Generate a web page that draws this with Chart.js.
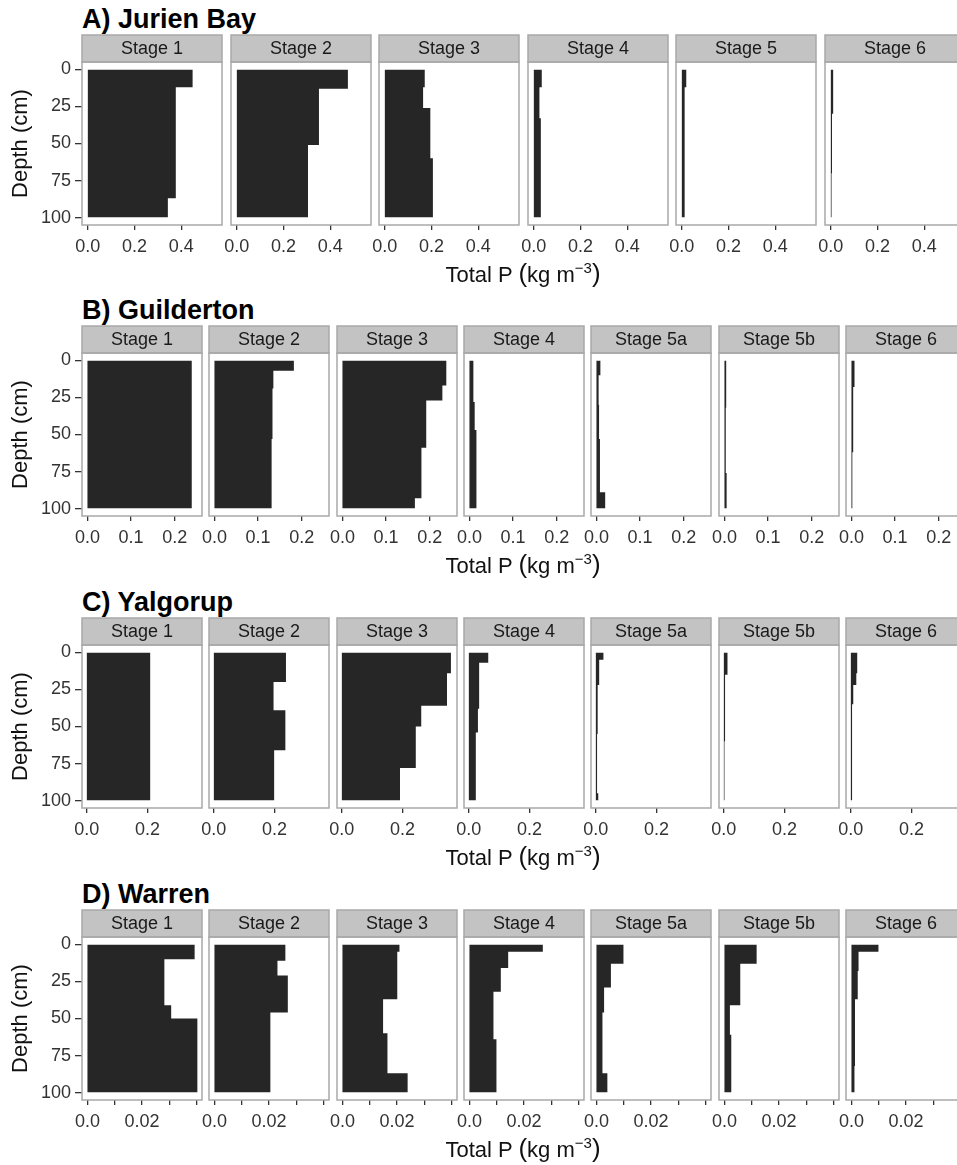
<!DOCTYPE html>
<html>
<head>
<meta charset="utf-8">
<script src="https://cdn.jsdelivr.net/npm/chart.js@4.4.1/dist/chart.umd.min.js"></script>
<style>
  body { margin: 0; background: #fff; width: 957px; height: 1165px; overflow: hidden; position: relative;
         font-family: "Liberation Sans", Arial, sans-serif; }
  canvas { position: absolute; }
  .site { position: absolute; left: 82px; font-weight: bold; font-size: 27px; line-height: 27px; color: #000; white-space: nowrap; }
  .xtitle { position: absolute; left: 0; width: 1046px; text-align: center; font-size: 22px; line-height: 26px; color: #111; white-space: nowrap; }
  .xtitle .par { font-size: 26px; }
  .xtitle sup { font-size: 15px; vertical-align: 9px; line-height: 0; }
</style>
</head>
<body>
<script>
// --- Data: depth layer breaks (cm) and total P (kg m-3), one profile per stage ---
const depthTicks = [0, 25, 50, 75, 100];

const jurienStages = ["Stage 1", "Stage 2", "Stage 3", "Stage 4", "Stage 5", "Stage 6"];
const jurienBreaks = [[0, 12, 87, 100], [0, 13, 51, 100], [0, 12, 26, 60, 100], [0, 12, 33, 100], [0, 12, 100], [0, 30, 70, 100]];
const jurienValues = [[0.449, 0.377, 0.343], [0.476, 0.352, 0.305], [0.171, 0.164, 0.195, 0.206], [0.034, 0.024, 0.030], [0.019, 0.012], [0.010, 0.005, 0.003]];
const jurienTicks = [0, 0.2, 0.4];
const jurienTickLabels = ["0.0", "0.2", "0.4"];

const guildertonStages = ["Stage 1", "Stage 2", "Stage 3", "Stage 4", "Stage 5a", "Stage 5b", "Stage 6"];
const guildertonBreaks = [[0, 100], [0, 7, 19, 53, 100], [0, 17, 27, 59, 93, 100], [0, 28, 47, 100], [0, 10, 30, 53, 89, 100], [0, 32, 76, 100], [0, 18, 62, 100]];
const guildertonValues = [[0.239], [0.182, 0.135, 0.133, 0.131], [0.238, 0.229, 0.192, 0.181, 0.166], [0.009, 0.012, 0.016], [0.009, 0.005, 0.006, 0.008, 0.020], [0.004, 0.003, 0.005], [0.007, 0.004, 0.002]];
const guildertonTicks = [0, 0.1, 0.2];
const guildertonTickLabels = ["0.0", "0.1", "0.2"];

const yalgorupStages = ["Stage 1", "Stage 2", "Stage 3", "Stage 4", "Stage 5a", "Stage 5b", "Stage 6"];
const yalgorupBreaks = [[0, 100], [0, 20, 39, 66, 100], [0, 14, 36, 50, 78, 100], [0, 7, 38, 54, 100], [0, 5, 22, 55, 95, 100], [0, 15, 60, 100], [0, 14, 22, 35, 100]];
const yalgorupValues = [[0.209], [0.238, 0.197, 0.236, 0.199], [0.360, 0.347, 0.262, 0.244, 0.192], [0.064, 0.034, 0.030, 0.023], [0.025, 0.011, 0.006, 0.004, 0.008], [0.012, 0.004, 0.002], [0.021, 0.018, 0.008, 0.004]];
const yalgorupTicks = [0, 0.2];
const yalgorupTickLabels = ["0.0", "0.2"];

const warrenStages = ["Stage 1", "Stage 2", "Stage 3", "Stage 4", "Stage 5a", "Stage 5b", "Stage 6"];
const warrenBreaks = [[0, 10, 41, 50, 100], [0, 11, 21, 46, 100], [0, 5, 37, 60, 87, 100], [0, 5, 16, 32, 64, 100], [0, 13, 29, 46, 87, 100], [0, 13, 41, 61, 100], [0, 5, 18, 37, 82, 100]];
const warrenValues = [[0.0393, 0.0282, 0.0307, 0.0403], [0.0260, 0.0231, 0.0269, 0.0205], [0.0209, 0.0201, 0.0149, 0.0165, 0.0239], [0.0269, 0.0142, 0.0115, 0.0088, 0.0099], [0.0099, 0.0053, 0.0028, 0.0022, 0.0040], [0.0118, 0.0058, 0.0020, 0.0025], [0.0099, 0.0026, 0.0023, 0.0013, 0.0011]];
const warrenTicks = [0, 0.01, 0.02, 0.03, 0.04];
const warrenTickLabels = ["0.0", "", "0.02", "", ""];

// --- Layout ---
const STRIP_H = 27;
const PLOT_H = 163;
const FONT = '"Liberation Sans", Arial, sans-serif';

const sites = [
  { title: "A) Jurien Bay", stages: jurienStages, breaks: jurienBreaks, values: jurienValues, ticks: jurienTicks, tickLabels: jurienTickLabels, xMin: -0.025, xMax: 0.575, top: 35, pitch: 148.5, width: 140 },
  { title: "B) Guilderton", stages: guildertonStages, breaks: guildertonBreaks, values: guildertonValues, ticks: guildertonTicks, tickLabels: guildertonTickLabels, xMin: -0.0125, xMax: 0.2625, top: 326, pitch: 127.3, width: 120 },
  { title: "C) Yalgorup", stages: yalgorupStages, breaks: yalgorupBreaks, values: yalgorupValues, ticks: yalgorupTicks, tickLabels: yalgorupTickLabels, xMin: -0.016, xMax: 0.38, top: 618, pitch: 127.3, width: 120 },
  { title: "D) Warren", stages: warrenStages, breaks: warrenBreaks, values: warrenValues, ticks: warrenTicks, tickLabels: warrenTickLabels, xMin: -0.002, xMax: 0.042, top: 910, pitch: 127.3, width: 120 },
];

// step outline of a profile: one point per layer top, plus the bottom
function profilePoints(breaks, values) {
  const pts = values.map((v, k) => ({ x: v, y: breaks[k] }));
  pts.push({ x: values[values.length - 1], y: breaks[breaks.length - 1] });
  return pts;
}

// grey facet strip + panel border
const stripPlugin = {
  id: "strip",
  afterDraw(chart, args, opts) {
    const { ctx, chartArea: a } = chart;
    const top = a.top - STRIP_H;
    ctx.save();
    ctx.fillStyle = "#c3c3c3";
    ctx.fillRect(a.left, top, a.width, STRIP_H);
    ctx.strokeStyle = "#a9a9a9";
    ctx.lineWidth = 1.5;
    ctx.strokeRect(a.left, top, a.width, STRIP_H);
    ctx.strokeRect(a.left, a.top, a.width, a.height);
    ctx.fillStyle = "#1a1a1a";
    ctx.font = "18px " + FONT;
    ctx.textAlign = "center";
    ctx.textBaseline = "middle";
    ctx.fillText(opts.label, (a.left + a.right) / 2, top + STRIP_H / 2 + 1);
    ctx.restore();
  }
};

function makePanel(site, i) {
  const first = i === 0;
  // room on the left for the y axis (first panel) or the overhanging "0.0" label
  const padL = first ? 82 : 24;
  const padR = 10;
  const x0 = Math.round(82 + i * site.pitch);
  const canvas = document.createElement("canvas");
  canvas.width = padL + site.width + padR;
  canvas.height = 2 + STRIP_H + PLOT_H + 40;
  canvas.style.left = (x0 - padL) + "px";
  canvas.style.top = (site.top - 2) + "px";
  document.body.appendChild(canvas);

  new Chart(canvas, {
    type: "line",
    data: {
      datasets: [{
        data: profilePoints(site.breaks[i], site.values[i]),
        stepped: "after",
        fill: "origin",
        backgroundColor: "#262626",
        borderWidth: 0,
        pointRadius: 0,
      }],
    },
    options: {
      indexAxis: "y",
      responsive: false,
      animation: false,
      events: [],
      layout: { padding: { top: 2 + STRIP_H, right: padR, bottom: 0, left: first ? 0 : padL } },
      plugins: {
        legend: { display: false },
        tooltip: { enabled: false },
        strip: { label: site.stages[i] },
      },
      scales: {
        x: {
          type: "linear",
          min: site.xMin,
          max: site.xMax,
          afterFit: (s) => { s.height = 40; },
          afterBuildTicks: (s) => { s.ticks = site.ticks.map((v) => ({ value: v })); },
          ticks: {
            autoSkip: false, maxRotation: 0, padding: 6, color: "#333",
            font: { size: 18, family: FONT },
            callback: (v, k) => site.tickLabels[k],
          },
          grid: { drawOnChartArea: false, tickLength: 5, color: "#333", lineWidth: 1.3 },
          border: { display: false },
        },
        y: {
          type: "linear",
          reverse: true,
          min: -5,
          max: 105,
          display: first,
          afterFit: (s) => { s.width = first ? 82 : 0; },
          afterBuildTicks: (s) => { s.ticks = depthTicks.map((v) => ({ value: v })); },
          ticks: {
            autoSkip: false, padding: 4, color: "#333",
            font: { size: 18, family: FONT },
          },
          grid: { drawOnChartArea: false, tickLength: 7, color: "#333", lineWidth: 1.3 },
          border: { display: false },
          title: {
            display: true, text: "Depth (cm)", color: "#111",
            font: { size: 22, family: FONT }, padding: { top: 8, bottom: 0 },
          },
        },
      },
    },
    plugins: [stripPlugin],
  });
}

sites.forEach((site) => {
  const title = document.createElement("div");
  title.className = "site";
  title.textContent = site.title;
  title.style.top = (site.top - 29.5) + "px";
  document.body.appendChild(title);

  site.stages.forEach((s, i) => makePanel(site, i));

  const xt = document.createElement("div");
  xt.className = "xtitle";
  xt.innerHTML = 'Total P <span class="par">(</span>kg m<sup>\u22123</sup><span class="par">)</span>';
  xt.style.top = (site.top + STRIP_H + PLOT_H + 48 - 13) + "px";
  document.body.appendChild(xt);
});
</script>
</body>
</html>
